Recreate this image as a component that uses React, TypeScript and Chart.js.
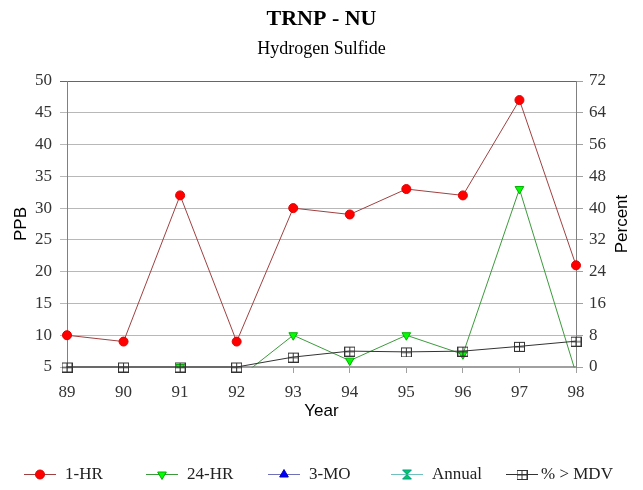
import React, { useEffect, useRef } from 'react';
import { Chart, registerables } from 'chart.js';
import { drawPoint } from 'chart.js/helpers';

Chart.register(...registerables);

// ---- data ----
const years = ['89', '90', '91', '92', '93', '94', '95', '96', '97', '98'];
const oneHr = [10, 9, 32, 9, 30, 29, 33, 32, 47, 21];
const twentyFourHr = [null, null, 5, 3, 10, 6, 10, 7, 33, 4];
const threeMo = [null, null, null, null, null, null, null, null, null, null];
const annual = [null, null, null, null, null, null, null, null, null, null];
const pctMdv = [0, 0, 0, 0, 2.5, 4.0, 3.8, 4.0, 5.2, 6.5];
const seriesLabels = ['1-HR', '24-HR', '3-MO', 'Annual', '% > MDV'];
const ppbAxis = [5, 50, 5]; // min, max, step
const pctAxis = [0, 72, 8];

const SERIF = "'Liberation Serif', 'Times New Roman', serif";
const SANS = "'Liberation Sans', Arial, sans-serif";

function makeSquarePlus(): HTMLCanvasElement {
  const c = document.createElement('canvas');
  c.width = 11; c.height = 11;
  const g = c.getContext('2d')!;
  g.strokeStyle = '#333333';
  g.lineWidth = 1;
  g.strokeRect(0.5, 1.5, 10, 9);
  g.beginPath();
  g.moveTo(5.5, 1.5); g.lineTo(5.5, 10.5);
  g.moveTo(0.5, 6); g.lineTo(10.5, 6);
  g.stroke();
  return c;
}

function makeHourglass(): HTMLCanvasElement {
  const c = document.createElement('canvas');
  c.width = 11; c.height = 11;
  const g = c.getContext('2d')!;
  g.fillStyle = '#00cc55';
  g.strokeStyle = '#009999';
  g.lineWidth = 1;
  g.beginPath();
  g.moveTo(1, 1); g.lineTo(10, 1); g.lineTo(5.5, 5.5); g.closePath();
  g.moveTo(1, 10); g.lineTo(10, 10); g.lineTo(5.5, 5.5); g.closePath();
  g.fill(); g.stroke();
  return c;
}

const legendPlugin = {
  id: 'customLegend',
  afterDraw(chart: any) {
    const ctx = chart.ctx;
    const y = 474;
    const centers = [40, 162, 284, 407, 522];
    const textGap = [25, 25, 25, 25, 19];
    chart.data.datasets.forEach((ds: any, i: number) => {
      const cx = centers[i];
      ctx.save();
      ctx.strokeStyle = ds.borderColor;
      ctx.lineWidth = 1;
      ctx.beginPath();
      ctx.moveTo(cx - 16, y + 0.5);
      ctx.lineTo(cx + 16, y + 0.5);
      ctx.stroke();
      ctx.fillStyle = ds.pointBackgroundColor;
      ctx.strokeStyle = ds.pointBorderColor;
      ctx.lineWidth = 1;
      drawPoint(ctx, { pointStyle: ds.pointStyle, radius: ds.pointRadius, rotation: ds.pointRotation || 0, borderWidth: 1 } as any, cx, y + 0.5);
      ctx.fillStyle = '#222222';
      ctx.font = `17px ${SERIF}`;
      ctx.textBaseline = 'middle';
      ctx.textAlign = 'left';
      ctx.fillText(ds.label, cx + textGap[i], y + 1);
      ctx.restore();
    });
  },
};

const rightTitlePlugin = {
  id: 'rightTitle',
  afterDraw(chart: any) {
    const { ctx, chartArea } = chart;
    ctx.save();
    ctx.translate(chart.width - 20.5, (chartArea.top + chartArea.bottom) / 2);
    ctx.rotate(-Math.PI / 2);
    ctx.fillStyle = '#000000';
    ctx.font = `17px ${SANS}`;
    ctx.textAlign = 'center';
    ctx.textBaseline = 'middle';
    ctx.fillText('Percent', 0, 0);
    ctx.restore();
  },
};

export default function App() {
  const ref = useRef<HTMLCanvasElement>(null);

  useEffect(() => {
    if (!ref.current) return;
    const squarePlus = makeSquarePlus();
    const hourglass = makeHourglass();

    const chart = new Chart(ref.current, {
      type: 'line',
      data: {
        labels: years,
        datasets: [
          {
            label: seriesLabels[0], data: oneHr, yAxisID: 'y',
            borderColor: '#a04040', borderWidth: 1,
            pointStyle: 'circle', pointRadius: 4.5,
            pointBackgroundColor: '#ff0000', pointBorderColor: '#e00000', pointBorderWidth: 1,
            order: 1, clip: { left: 10, right: 10, top: 10, bottom: 0.5 } as any,
          },
          {
            label: seriesLabels[1], data: twentyFourHr, yAxisID: 'y',
            borderColor: '#3c9a3c', borderWidth: 1,
            pointStyle: 'triangle', pointRotation: 180, pointRadius: 5,
            pointBackgroundColor: '#00ff00', pointBorderColor: '#00b000', pointBorderWidth: 1,
            order: 2, clip: { left: 10, right: 10, top: 10, bottom: 0.5 } as any,
          },
          {
            label: seriesLabels[2], data: threeMo, yAxisID: 'y',
            borderColor: '#7070b8', borderWidth: 1,
            pointStyle: 'triangle', pointRadius: 5,
            pointBackgroundColor: '#0000ff', pointBorderColor: '#0000c0', pointBorderWidth: 1,
            order: 3,
          },
          {
            label: seriesLabels[3], data: annual, yAxisID: 'y',
            borderColor: '#70c0c0', borderWidth: 1,
            pointStyle: hourglass as any, pointRadius: 5,
            pointBackgroundColor: '#00cc55', pointBorderColor: '#009999', pointBorderWidth: 1,
            order: 4,
          },
          {
            label: seriesLabels[4], data: pctMdv, yAxisID: 'y1',
            borderColor: '#333333', borderWidth: 1,
            pointStyle: squarePlus as any, pointRadius: 5,
            pointBackgroundColor: '#ffffff', pointBorderColor: '#333333', pointBorderWidth: 1,
            order: 0, clip: false as any,
          },
        ],
      },
      options: {
        animation: false,
        responsive: true,
        maintainAspectRatio: false,
        layout: { padding: { top: 0, left: 0, right: 0, bottom: 68 } },
        plugins: {
          legend: { display: false },
          tooltip: { enabled: false },
          title: {
            display: true, text: 'TRNP - NU', color: '#000000',
            font: { family: SERIF, size: 22, weight: 'bold' },
            padding: { top: 6, bottom: 0 },
          },
          subtitle: {
            display: true, text: 'Hydrogen Sulfide', color: '#000000',
            font: { family: SERIF, size: 18 },
            padding: { top: 6, bottom: 21 },
          },
        },
        scales: {
          x: {
            type: 'category',
            offset: false,
            grid: { drawOnChartArea: false, drawTicks: true, tickLength: 6, color: '#a0a0a0' },
            border: { color: '#a0a0a0', width: 2 },
            ticks: { color: '#333333', font: { family: SERIF, size: 17 }, padding: 9, maxRotation: 0, autoSkip: false },
            title: { display: true, text: 'Year', color: '#000000', font: { family: SANS, size: 17 }, padding: { top: 0, bottom: 0 } },
            afterFit: (s: any) => { s.height = 55; },
          },
          y: {
            position: 'left',
            min: ppbAxis[0], max: ppbAxis[1],
            ticks: { stepSize: ppbAxis[2], color: '#333333', font: { family: SERIF, size: 17 }, padding: 8 },
            grid: {
              drawTicks: true, tickLength: 7,
              color: (c: any) => (c.tick && c.tick.value === ppbAxis[1] ? '#666666' : '#b8b8b8'),
            },
            border: { color: '#808080', width: 1 },
            title: { display: true, text: 'PPB', color: '#000000', font: { family: SANS, size: 17 }, padding: { top: 11.5, bottom: 0 } },
            afterFit: (s: any) => { s.width = 67; },
          },
          y1: {
            position: 'right',
            min: pctAxis[0], max: pctAxis[1],
            ticks: { stepSize: pctAxis[2], color: '#333333', font: { family: SERIF, size: 17 }, padding: 6 },
            grid: { drawOnChartArea: false, drawTicks: true, tickLength: 7, color: '#a0a0a0' },
            border: { color: '#808080', width: 1 },
            title: { display: false },
            afterFit: (s: any) => { s.width = 67; },
          },
        },
      } as any,
      plugins: [legendPlugin, rightTitlePlugin],
    });
    return () => chart.destroy();
  }, []);

  return (
    <div style={{ position: 'absolute', left: 0, top: 0, width: 643, height: 490, background: '#ffffff' }}>
      <canvas ref={ref} />
    </div>
  );
}
